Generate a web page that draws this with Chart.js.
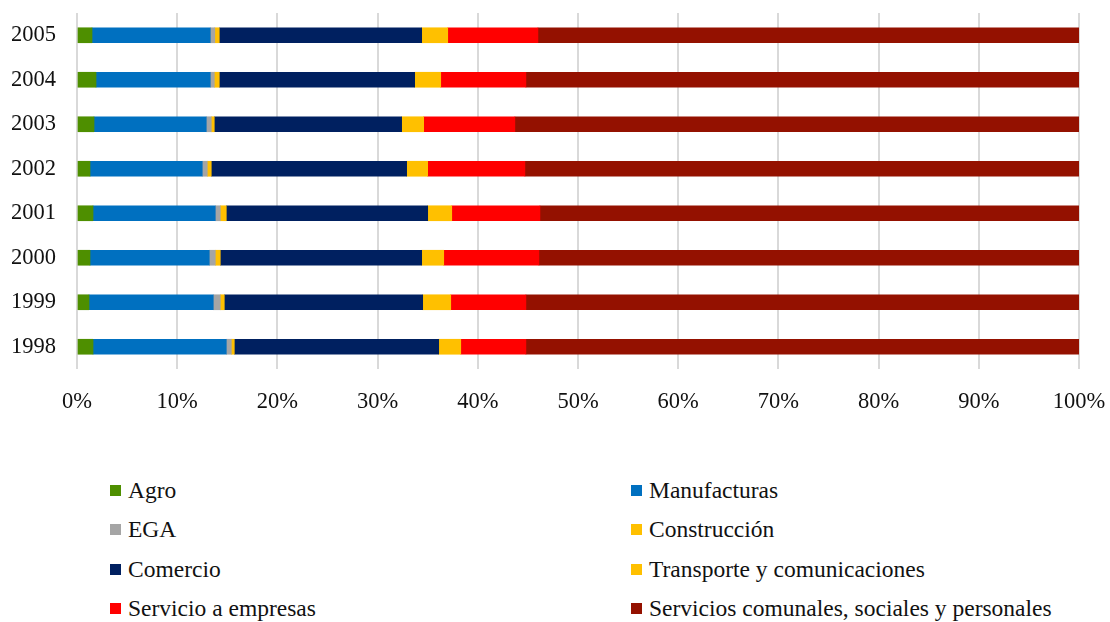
<!DOCTYPE html>
<html>
<head>
<meta charset="utf-8">
<script src="https://cdn.jsdelivr.net/npm/chart.js@4"></script>
<style>
    body { margin: 0; background: #fff; }
    #wrap { position: relative; width: 1110px; height: 622px; }
    #chartBox { position: absolute; left: 0; top: 0; width: 1110px; height: 420px; }
    #legend {
        position: absolute; left: 110px; top: 471px;
        display: grid; grid-template-columns: 521px auto; grid-auto-rows: 39.3px;
        font-family: 'Liberation Serif', 'Times New Roman', serif; font-size: 23.5px; color: #111;
    }
    #legend .item { display: flex; align-items: center; }
    #legend .box { width: 11px; height: 11px; margin-right: 7px; }
</style>
</head>
<body>
<div id="wrap">
    <div id="chartBox"><canvas id="sectorChart"></canvas></div>
    <div id="legend"></div>
</div>
<script>
// years, top to bottom
const years = ['2005', '2004', '2003', '2002', '2001', '2000', '1999', '1998'];

// share of each sector (%)
const agro        = [1.5, 1.9, 1.7, 1.3, 1.6, 1.3, 1.2, 1.6];
const manufacturas = [11.8, 11.4, 11.2, 11.2, 12.2, 11.9, 12.4, 13.3];
const ega         = [0.45, 0.4, 0.5, 0.5, 0.5, 0.6, 0.7, 0.5];
const construccion = [0.45, 0.5, 0.3, 0.4, 0.6, 0.5, 0.4, 0.3];
const comercio    = [20.2, 19.5, 18.7, 19.5, 20.1, 20.1, 19.8, 20.4];
const transporte  = [2.6, 2.6, 2.2, 2.1, 2.4, 2.2, 2.8, 2.2];
const servEmpresas = [9.0, 8.5, 9.1, 9.7, 8.8, 9.5, 7.5, 6.5];
const servComunales = [54.0, 55.2, 56.3, 55.3, 53.8, 53.9, 55.2, 55.2];

const xTicks = [0, 10, 20, 30, 40, 50, 60, 70, 80, 90, 100];

const serif = "'Liberation Serif', 'Times New Roman', serif";

const series = [
    { label: 'Agro', data: agro, color: '#4e8f00' },
    { label: 'Manufacturas', data: manufacturas, color: '#0070c0' },
    { label: 'EGA', data: ega, color: '#a5a5a5' },
    { label: 'Construcción', data: construccion, color: '#ffc000' },
    { label: 'Comercio', data: comercio, color: '#002060' },
    { label: 'Transporte y comunicaciones', data: transporte, color: '#ffc000' },
    { label: 'Servicio a empresas', data: servEmpresas, color: '#ff0000' },
    { label: 'Servicios comunales, sociales y personales', data: servComunales, color: '#941100' }
];

const ctxSector = document.getElementById('sectorChart').getContext('2d');
const chart = new Chart(ctxSector, {
    type: 'bar',
    data: {
        labels: years,
        datasets: series.map(s => ({
            label: s.label,
            data: s.data,
            backgroundColor: s.color,
            borderWidth: 0,
            barThickness: 15
        }))
    },
    options: {
        indexAxis: 'y',
        responsive: true,
        maintainAspectRatio: false,
        animation: false,
        layout: { autoPadding: false, padding: { top: 13, right: 31, bottom: 0, left: 0 } },
        plugins: {
            legend: { display: false },
            tooltip: { enabled: false }
        },
        scales: {
            x: {
                stacked: true,
                min: 0,
                max: 100,
                afterBuildTicks: scale => { scale.ticks = xTicks.map(v => ({ value: v })); },
                grid: { color: '#d9d9d9', lineWidth: 2, drawTicks: false },
                border: { display: false },
                ticks: {
                    padding: 20,
                    color: '#111',
                    font: { family: serif, size: 22.5 },
                    callback: v => v + '%'
                },
                afterFit: scale => {
                    scale.height = 51;
                    scale.paddingLeft = 0;
                    scale.paddingRight = 0;
                }
            },
            y: {
                stacked: true,
                grid: { display: false, drawTicks: false },
                border: { display: false },
                ticks: {
                    padding: 21,
                    color: '#111',
                    font: { family: serif, size: 22.5 }
                },
                afterFit: scale => {
                    scale.width = 77;
                    scale.paddingTop = 0;
                    scale.paddingBottom = 0;
                }
            }
        }
    }
});

// legend in two columns, row by row
const legendEl = document.getElementById('legend');
chart.data.datasets.forEach(ds => {
    const item = document.createElement('div');
    item.className = 'item';
    const box = document.createElement('span');
    box.className = 'box';
    box.style.background = ds.backgroundColor;
    const txt = document.createElement('span');
    txt.textContent = ds.label;
    item.appendChild(box);
    item.appendChild(txt);
    legendEl.appendChild(item);
});
</script>
</body>
</html>
